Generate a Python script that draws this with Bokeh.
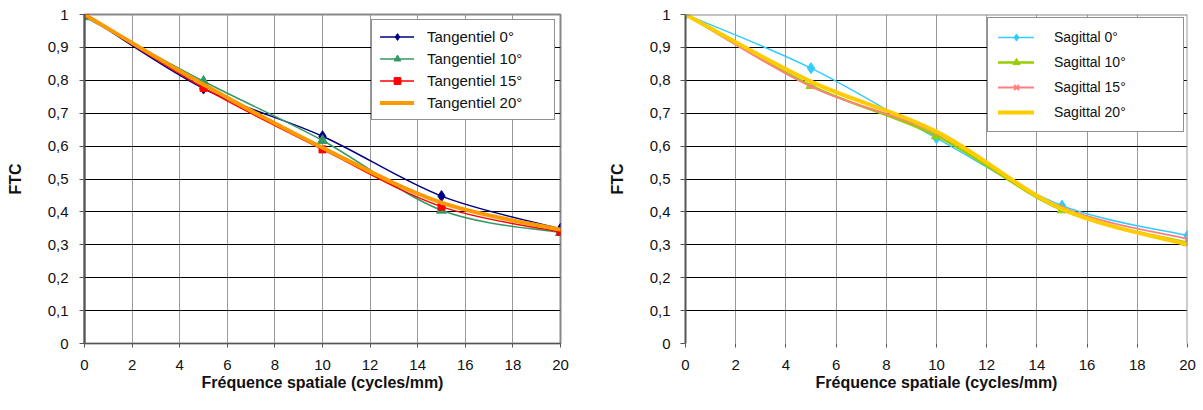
from bokeh.plotting import figure
from bokeh.layouts import row
from bokeh.models import (Range1d, FixedTicker, CustomJSTickFormatter, Legend,
                          LegendItem, Span, ColumnDataSource)
from bokeh.embed import file_html
from bokeh.resources import INLINE

# ---------------- data ----------------
freq = [0, 5, 10, 15, 20]

tan_0 = [1.0, 0.775, 0.630, 0.448, 0.349]
tan_10 = [0.993, 0.797, 0.617, 0.405, 0.337]
tan_15 = [1.0, 0.777, 0.590, 0.416, 0.339]
tan_20 = [1.0, 0.787, 0.595, 0.428, 0.346]

sag_0 = [1.0, 0.837, 0.624, 0.419, 0.328]
sag_10 = [1.0, 0.784, 0.631, 0.406, 0.306]
sag_15 = [1.0, 0.781, 0.639, 0.414, 0.318]
sag_20 = [1.0, 0.796, 0.644, 0.409, 0.301]

tan_labels = ["Tangentiel 0°", "Tangentiel 10°", "Tangentiel 15°", "Tangentiel 20°"]
sag_labels = ["Sagittal 0°", "Sagittal 10°", "Sagittal 15°", "Sagittal 20°"]

x_ticks = [0, 2, 4, 6, 8, 10, 12, 14, 16, 18, 20]
y_ticks = [0, 0.1, 0.2, 0.3, 0.4, 0.5, 0.6, 0.7, 0.8, 0.9, 1]
y_grid = [0.1, 0.2, 0.3, 0.4, 0.5, 0.6, 0.7, 0.8, 0.9]
x_title = "Fréquence spatiale (cycles/mm)"
y_title = "FTC"

FONT = "Liberation Sans"


def smooth_source(xs, ys):
    """Excel-like smoothed line: cubic Bezier segments through the data points."""
    n = len(xs)
    d = dict(x0=[], y0=[], x1=[], y1=[], cx0=[], cy0=[], cx1=[], cy1=[])
    for i in range(n - 1):
        xp, yp = (xs[i - 1], ys[i - 1]) if i > 0 else (xs[i], ys[i])
        xn, yn = (xs[i + 2], ys[i + 2]) if i + 2 < n else (xs[i + 1], ys[i + 1])
        d["x0"].append(xs[i]); d["y0"].append(ys[i])
        d["x1"].append(xs[i + 1]); d["y1"].append(ys[i + 1])
        d["cx0"].append(xs[i] + (xs[i + 1] - xp) / 6.0)
        d["cy0"].append(ys[i] + (ys[i + 1] - yp) / 6.0)
        d["cx1"].append(xs[i + 1] - (xn - xs[i]) / 6.0)
        d["cy1"].append(ys[i + 1] - (yn - ys[i]) / 6.0)
    return ColumnDataSource(d)


def make_fig(width, height, mb_left, mb_right, mb_top, mb_bottom, series,
             legend_cfg, st):
    p = figure(width=width, height=height, output_backend="svg",
               toolbar_location=None, x_range=Range1d(0, 20),
               y_range=Range1d(0, 1), min_border_left=mb_left,
               min_border_right=mb_right, min_border_top=mb_top,
               min_border_bottom=mb_bottom, background_fill_color="white",
               border_fill_color="white")
    # axes
    p.xaxis.ticker = FixedTicker(ticks=x_ticks)
    p.yaxis.ticker = FixedTicker(ticks=y_ticks)
    p.yaxis.formatter = CustomJSTickFormatter(code="""
        if (Math.abs(tick) < 1e-9) return '0';
        if (Math.abs(tick - 1) < 1e-9) return '1';
        return tick.toFixed(1).replace('.', ',');
    """)
    for ax in (p.xaxis[0], p.yaxis[0]):
        ax.major_label_text_font = FONT
        ax.major_label_text_font_size = "15px"
        ax.major_label_text_color = "#111111"
        ax.axis_label_text_font = FONT
        ax.axis_label_text_font_style = "bold"
        ax.axis_label_text_color = "#111111"
        ax.minor_tick_line_color = None
        ax.major_tick_in = 0
        ax.major_tick_line_color = "#555555"
    p.xaxis.axis_label = x_title
    p.yaxis.axis_label = y_title
    p.xaxis.axis_label_text_font_size = "16px"
    p.yaxis.axis_label_text_font_size = "16px"
    p.xaxis.major_tick_out = 4
    p.yaxis.major_tick_out = 5
    p.yaxis.axis_line_color = "#555555"
    p.yaxis.axis_line_width = 2
    p.yaxis.major_label_standoff = st["ystand"]
    p.yaxis.axis_label_standoff = st["ylabstand"]
    p.xaxis.major_label_standoff = st["xstand"]
    p.xaxis.axis_label_standoff = st["xlabstand"]
    if st["xaxis_line"]:
        p.xaxis.axis_line_color = "#555555"
        p.xaxis.axis_line_width = 1
    else:
        p.xaxis.axis_line_color = None

    # grids
    p.xgrid.ticker = FixedTicker(ticks=x_ticks)
    p.xgrid.grid_line_color = "#999999"
    p.xgrid.grid_line_width = 1
    p.ygrid.ticker = FixedTicker(ticks=y_grid)
    p.ygrid.grid_line_color = "#000000"
    p.ygrid.grid_line_width = 1

    # frame border
    if st["outline"]:
        p.outline_line_color = "#888888"
        p.outline_line_width = 2
    else:
        p.outline_line_color = None
        p.add_layout(Span(location=1, dimension="width", line_color="#888888",
                          line_width=2))
        p.add_layout(Span(location=20, dimension="height", line_color="#999999",
                          line_width=2))

    items = []
    for s in series:
        src = smooth_source(freq, s["y"])
        bez = p.bezier(x0="x0", y0="y0", x1="x1", y1="y1", cx0="cx0", cy0="cy0",
                       cx1="cx1", cy1="cy1", source=src, line_color=s["color"],
                       line_width=s["lw"], line_cap="round", line_join="round")
        rends = [bez]
        if s.get("marker"):
            sc = p.scatter(freq, s["y"], marker=s["marker"], size=s["size"],
                           fill_color=s["color"], line_color=s["color"],
                           line_width=s.get("mlw", 1))
            rends.append(sc)
        items.append(LegendItem(label=s["label"], renderers=rends))

    lg = Legend(items=items, location="top_right", margin=legend_cfg["margin"],
                padding=legend_cfg["padding"], spacing=legend_cfg["spacing"],
                glyph_width=legend_cfg["glyph_w"], glyph_height=legend_cfg["glyph_h"],
                label_height=legend_cfg["glyph_h"],
                label_standoff=legend_cfg["standoff"], label_width=legend_cfg["label_w"],
                label_text_font=FONT, label_text_font_size=legend_cfg["fs"],
                label_text_color="#111111", border_line_color="#222222",
                border_line_width=1, background_fill_color="white",
                background_fill_alpha=1.0)
    p.add_layout(lg, "center")
    return p


tan_series = [
    dict(y=tan_0, label=tan_labels[0], color="#000080", lw=1.5, marker="diamond", size=11),
    dict(y=tan_10, label=tan_labels[1], color="#339966", lw=1.5, marker="triangle", size=10),
    dict(y=tan_15, label=tan_labels[2], color="#FF0000", lw=1.5, marker="square", size=7),
    dict(y=tan_20, label=tan_labels[3], color="#FF9900", lw=4),
]
sag_series = [
    dict(y=sag_0, label=sag_labels[0], color="#33CCFF", lw=1.5, marker="diamond", size=11),
    dict(y=sag_10, label=sag_labels[1], color="#99CC00", lw=2.5, marker="triangle", size=10),
    dict(y=sag_15, label=sag_labels[2], color="#FF8080", lw=2, marker="x", size=5, mlw=2),
    dict(y=sag_20, label=sag_labels[3], color="#FFCC00", lw=4),
]

left = make_fig(600, 410, 84, 40, 13, 67, tan_series,
                dict(margin=5, padding=8, spacing=5, glyph_w=34, glyph_h=17,
                     standoff=13, label_w=119, fs="15px"),
                dict(ystand=11, ylabstand=21, xstand=12, xlabstand=1,
                     xaxis_line=True, outline=True))
right = make_fig(603, 410, 85, 16, 14, 56, sag_series,
                 dict(margin=3, padding=10, spacing=7, glyph_w=36, glyph_h=18,
                      standoff=20, label_w=119, fs="14px"),
                 dict(ystand=10, ylabstand=21, xstand=12, xlabstand=1,
                      xaxis_line=False, outline=False))

layout = row(left, right)
open("out.html", "w").write(file_html(layout, INLINE))
